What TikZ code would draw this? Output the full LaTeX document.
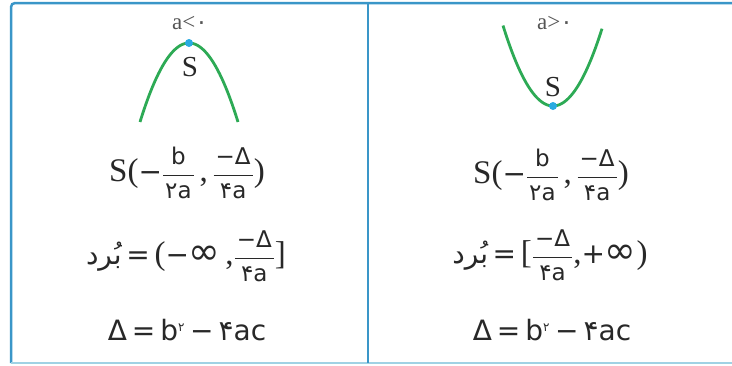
\documentclass[tikz,border=0pt]{standalone}
\usepackage{fontspec}
\setmainfont{Liberation Serif}
\newfontfamily\dv{DejaVu Sans}
\newfontfamily\fa[Script=Arabic]{DejaVu Sans}
\TeXXeTstate=1
\definecolor{frameblue}{RGB}{58,150,200}
\definecolor{framelight}{RGB}{160,210,228}
\definecolor{curvegreen}{RGB}{45,170,85}
\definecolor{dotblue}{RGB}{40,170,225}
\definecolor{txt}{RGB}{40,40,40}
\definecolor{txtgray}{RGB}{85,85,85}
\newcommand\mainsz{\fontsize{28}{31}\selectfont}
\newcommand\bsz{\fontsize{33}{36}\selectfont}
\newcommand\bigS{{\bsz S}}
\newcommand\dl[1]{{\bsz #1}}
\newcommand\infsym{{\dv\fontsize{38}{40}\selectfont ∞}}
\newcommand\fsz{\fontsize{23}{26}\selectfont}
\newcommand\fracpart[1]{\mbox{\fsz\hspace{2pt}#1\hspace{2pt}}}
\newcommand\fr[2]{$\displaystyle\frac{\fracpart{#1}}{\fracpart{#2}}$}
\newcommand\mDelta{{\dv −Δ}}
\begin{document}
\begin{tikzpicture}[x=1pt,y=-1pt,
  frame/.style={line width=2.5pt,draw=frameblue},
  curve/.style={line width=2.8pt,draw=curvegreen},
  vertex/.style={circle,fill=dotblue,inner sep=0pt,minimum size=8pt},
  cond/.style={font=\fontsize{23}{26}\selectfont,text=txtgray,inner sep=0pt},
  slabel/.style={font=\fontsize{29}{31}\selectfont,text=txt,inner sep=0pt},
  formula/.style={font=\mainsz,text=txt,inner sep=0pt}]
\useasboundingbox (0,0) rectangle (732,365);
% frame
\draw[frame,rounded corners=4pt] (745,3) -- (11,3) -- (11,363);
\draw[line width=2.5pt,draw=framelight] (11,363) -- (745,363);
\draw[frame] (368,3) -- (368,363);
% left panel
\draw[curve,domain=140:238,samples=60,smooth] plot (\x,{43+0.0329*(\x-189)*(\x-189)});
\node[vertex] (vl) at (189,43) {};
\node[cond] (cl) at (190,23) {a<{\fa ۰}};
\node[slabel] (sl) at (190,67) {S};
\node[formula] (f1l) at (187,173) {\bigS\dl{(}{\dv −}\fr{\dv b}{\fa ۲\dv a}\,\dl{,}\,\fr{\mDelta}{\fa ۴\dv a}\dl{)}};
\node[formula] (f2l) at (186,256) {{\fa\beginR بُرد\endR}\,{\dv =}\,\dl{(}{\dv −}\infsym\,\dl{,}\fr{\mDelta}{\fa ۴\dv a}\dl{]}};
\node[formula] (f3l) at (187,330) {{\dv Δ\hspace{5pt}=\hspace{5pt}b}$^{\mbox{\fa\fontsize{12}{13}\selectfont ۲}}${\dv\hspace{5pt}−\hspace{5pt}}{\fa ۴}{\dv ac}};
% right panel
\draw[curve,domain=503:602,samples=60,smooth] plot (\x,{106-0.0322*(\x-553)*(\x-553)});
\node[vertex] (vr) at (553,106) {};
\node[cond] (cr) at (555,23) {a>{\fa ۰}};
\node[slabel] (sr) at (553,87) {S};
\node[formula] (f1r) at (551,175) {\bigS\dl{(}{\dv −}\fr{\dv b}{\fa ۲\dv a}\,\dl{,}\,\fr{\mDelta}{\fa ۴\dv a}\dl{)}};
\node[formula] (f2r) at (550,255) {{\fa\beginR بُرد\endR}\,{\dv =}\,\dl{[}\fr{\mDelta}{\fa ۴\dv a}\dl{,}{\dv +}\infsym\dl{)}};
\node[formula] (f3r) at (552,330) {{\dv Δ\hspace{5pt}=\hspace{5pt}b}$^{\mbox{\fa\fontsize{12}{13}\selectfont ۲}}${\dv\hspace{5pt}−\hspace{5pt}}{\fa ۴}{\dv ac}};
\end{tikzpicture}
\end{document}
